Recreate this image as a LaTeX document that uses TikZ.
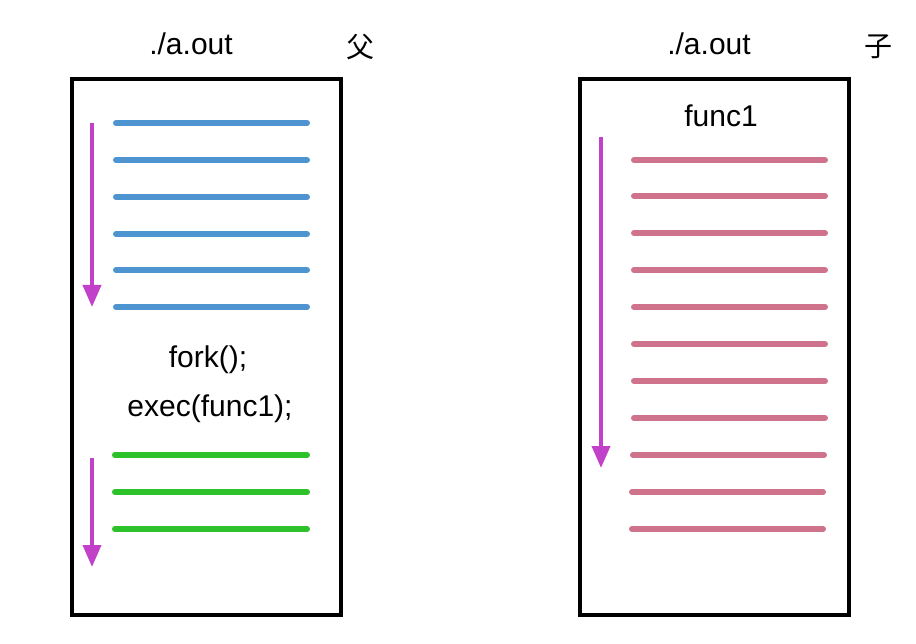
\documentclass[tikz,border=0pt]{standalone}
\usepackage{fontspec}
\setmainfont{Liberation Sans}
\newfontfamily\cjkfont{Noto Sans CJK SC}
\usetikzlibrary{arrows.meta}
\definecolor{codeblue}{HTML}{4E94D0}
\definecolor{codegreen}{HTML}{2DC12A}
\definecolor{codepink}{HTML}{CF738C}
\definecolor{flowmag}{HTML}{C241C9}
\tikzset{
  proc/.style={draw=black, line width=4pt, minimum width=269pt, minimum height=536pt, inner sep=0pt},
  codeline/.style={line width=6pt, line cap=round},
  flow/.style={flowmag, line width=4pt, -{Triangle[width=18pt,length=22pt]}},
  label/.style={font=\fontsize{30}{36}\selectfont, anchor=base, inner sep=0pt},
  cjk/.style={font=\cjkfont\fontsize{28}{34}\selectfont, inner sep=0pt}
}

\begin{document}
\begin{tikzpicture}[x=1pt,y=-1pt]
\useasboundingbox (0,0) rectangle (916,644);
% the two processes
\node[proc] (parent) at (206.5,347) {};
\node[proc] (child) at (714.5,347) {};
\node[label] (ptitle) at (191,55) {./a.out};
\node[label] (ctitle) at (709,55) {./a.out};
\node[cjk] (pmark) at (360,47) {父};
\node[cjk] (cmark) at (878,47) {子};
% parent: code before fork
\draw[codeblue, codeline] (116,123) -- (307,123);
\draw[codeblue, codeline] (116,160) -- (307,160);
\draw[codeblue, codeline] (116,197) -- (307,197);
\draw[codeblue, codeline] (116,234) -- (307,234);
\draw[codeblue, codeline] (116,270) -- (307,270);
\draw[codeblue, codeline] (116,307) -- (307,307);
\coordinate (pa1) at (92,123);
\coordinate (pa2) at (92,307);
\draw[flow] (pa1) -- (pa2);
\node[label] (fork) at (208,367) {fork();};
\node[label] (exec) at (210,417) {exec(func1);};
% parent: code after exec
\draw[codegreen, codeline] (115,455) -- (307,455);
\draw[codegreen, codeline] (115,492) -- (307,492);
\draw[codegreen, codeline] (115,529) -- (307,529);
\coordinate (pb1) at (92,458);
\coordinate (pb2) at (92,567);
\draw[flow] (pb1) -- (pb2);
% child: func1
\node[label] (func) at (721,127) {func1};
\draw[codepink, codeline] (634,160) -- (825,160);
\draw[codepink, codeline] (634,196) -- (825,196);
\draw[codepink, codeline] (634,233) -- (825,233);
\draw[codepink, codeline] (634,270) -- (825,270);
\draw[codepink, codeline] (634,307) -- (825,307);
\draw[codepink, codeline] (634,344) -- (825,344);
\draw[codepink, codeline] (634,381) -- (825,381);
\draw[codepink, codeline] (634,418) -- (825,418);
\draw[codepink, codeline] (633,455) -- (824,455);
\draw[codepink, codeline] (632,492) -- (823,492);
\draw[codepink, codeline] (632,529) -- (823,529);
\coordinate (ca1) at (601,137);
\coordinate (ca2) at (601,468);
\draw[flow] (ca1) -- (ca2);
\end{tikzpicture}
\end{document}
